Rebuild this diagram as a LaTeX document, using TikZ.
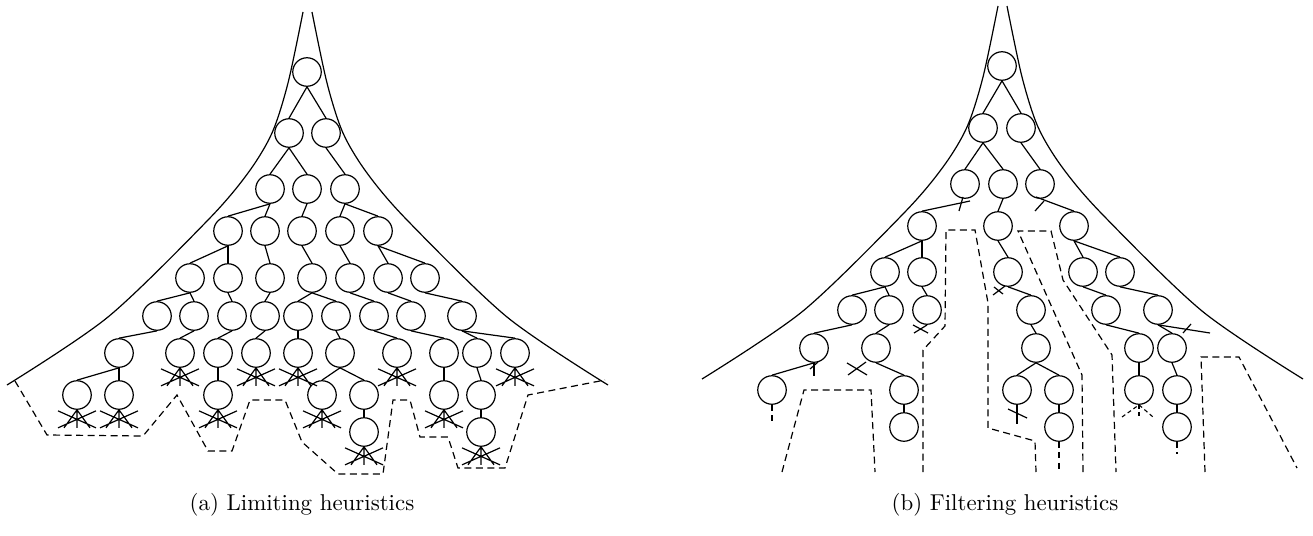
\documentclass[tikz,border=0pt]{standalone}
\usetikzlibrary{calc}
\begin{document}
\begin{tikzpicture}[x=1pt,y=-1pt,
  nd/.style={circle,draw,line width=1.2pt,minimum size=28.5pt,inner sep=0pt},
  ed/.style={line width=1.2pt},
  dsh/.style={line width=1.2pt,dash pattern=on 7pt off 4.5pt},
  dshs/.style={line width=1.1pt,dash pattern=on 6pt off 4.5pt},
  captxt/.style={font=\fontsize{10}{12}\selectfont,scale=2.29},
  cutx/.pic={\draw[ed] (-19,1) -- (19,18) (-19,18) -- (19,1) (0,0) -- (0,18) (0,0) -- (-13,18) (0,0) -- (13,18);}
]
\useasboundingbox (0,0) rectangle (1313,535);

% ---------------- (a) ----------------
\draw[ed] plot[smooth] coordinates {(303,12) (288,83) (272,133) (248,173) (208,220) (108,317) (7,385)};
\draw[ed] plot[smooth] coordinates {(312,12) (327,83) (343,133) (367,173) (407,220) (507,317) (608,385)};
\draw[dsh] (15,381) -- (47,435) -- (143,436) -- (177,395) -- (208,451) -- (232,451) -- (250,400) -- (285,400) -- (302,442) -- (338,474) -- (383,474) -- (393,400) -- (410,400) -- (420,437) -- (448,437) -- (458,468) -- (505,468) -- (528,395) -- (605,380);

\node[nd] (a1) at (307,72) {};
\foreach \n/\x in {a2a/289,a2b/326} \node[nd] (\n) at (\x,133) {};
\foreach \n/\x in {a3a/270,a3b/307,a3c/345} \node[nd] (\n) at (\x,189) {};
\foreach \n/\x in {a4a/228,a4b/265,a4c/302,a4d/340,a4e/378} \node[nd] (\n) at (\x,231) {};
\foreach \n/\x in {a5a/190,a5b/228,a5c/270,a5d/312,a5e/350,a5f/388,a5g/425} \node[nd] (\n) at (\x,278) {};
\foreach \n/\x in {a6a/157,a6b/194,a6c/232,a6d/265,a6e/298,a6f/336,a6g/374,a6h/411,a6i/462} \node[nd] (\n) at (\x,316) {};
\foreach \n/\x in {a7a/119,a7b/180,a7c/218,a7d/256,a7e/298,a7f/340,a7g/397,a7h/444,a7i/477,a7j/515} \node[nd] (\n) at (\x,353) {};
\foreach \n/\x in {a8a/77,a8b/119,a8c/218,a8d/322,a8e/364,a8f/444,a8g/481} \node[nd] (\n) at (\x,395) {};
\foreach \n/\x in {a9a/364,a9b/481} \node[nd] (\n) at (\x,432) {};

\foreach \p/\c in {a1/a2a,a1/a2b,a2a/a3a,a2a/a3b,a2b/a3c,
  a3a/a4a,a3a/a4b,a3b/a4c,a3c/a4d,a3c/a4e,
  a4a/a5a,a4a/a5b,a4b/a5c,a4c/a5d,a4d/a5e,a4e/a5f,a4e/a5g,
  a5a/a6a,a5a/a6b,a5b/a6c,a5c/a6d,a5d/a6e,a5d/a6f,a5e/a6g,a5f/a6h,a5g/a6i,
  a6a/a7a,a6b/a7b,a6c/a7c,a6d/a7d,a6e/a7e,a6f/a7f,a6g/a7g,a6h/a7h,a6i/a7i,a6i/a7j,
  a7a/a8a,a7a/a8b,a7c/a8c,a7f/a8d,a7f/a8e,a7h/a8f,a7i/a8g,
  a8e/a9a,a8g/a9b}
  \draw[ed] (\p.south) -- (\c.north);

\foreach \n in {a7b,a7d,a7e,a7g,a7j,a8a,a8b,a8c,a8d,a8f,a9a,a9b}
  \pic at (\n.south) {cutx};

\node[captxt] (capa) at (302,505) {(a) Limiting heuristics};

% ---------------- (b) ----------------
\draw[ed] plot[smooth] coordinates {(998,6) (983,77) (967,127) (943,167) (903,214) (803,311) (702,379)};
\draw[ed] plot[smooth] coordinates {(1007,6) (1022,77) (1038,127) (1062,167) (1102,214) (1202,311) (1303,379)};

\draw[dsh] (782,472) -- (804,390) -- (871,390) -- (875,472);
\draw[dsh] (923,472) -- (923,350) -- (945,326) -- (946,230) -- (975,230) -- (988,303) -- (988,428) -- (1035,441) -- (1036,472);
\draw[dsh] (1083,472) -- (1082,375) -- (1018,231) -- (1051,231) -- (1063,280) -- (1112,355) -- (1116,472);
\draw[dsh] (1205,472) -- (1201,357) -- (1239,357) -- (1297,468);

\node[nd] (b1) at (1002,66) {};
\foreach \n/\x in {b2a/983,b2b/1021} \node[nd] (\n) at (\x,128) {};
\foreach \n/\x in {b3a/965,b3b/1003,b3c/1040} \node[nd] (\n) at (\x,184) {};
\foreach \n/\x in {b4a/922,b4b/998,b4c/1074} \node[nd] (\n) at (\x,226) {};
\foreach \n/\x in {b5a/885,b5b/922,b5c/1008,b5d/1083,b5e/1120} \node[nd] (\n) at (\x,272) {};
\foreach \n/\x in {b6a/852,b6b/889,b6c/927,b6d/1031,b6e/1106,b6f/1158} \node[nd] (\n) at (\x,310) {};
\foreach \n/\x in {b7a/814,b7b/876,b7c/1036,b7d/1139,b7e/1172} \node[nd] (\n) at (\x,348) {};
\foreach \n/\x in {b8a/772,b8b/904,b8c/1017,b8d/1059,b8e/1139,b8f/1177} \node[nd] (\n) at (\x,390) {};
\foreach \n/\x in {b9a/904,b9b/1059,b9c/1177} \node[nd] (\n) at (\x,427) {};

\foreach \p/\c in {b1/b2a,b1/b2b,b2a/b3a,b2a/b3b,b2b/b3c,b3b/b4b,
  b4a/b5a,b4a/b5b,b4b/b5c,b4c/b5d,b4c/b5e,
  b5a/b6a,b5a/b6b,b5b/b6c,b5c/b6d,b5d/b6e,b5e/b6f,
  b6a/b7a,b6b/b7b,b6d/b7c,b6e/b7d,b6f/b7e,
  b7a/b8a,b7b/b8b,b7c/b8c,b7c/b8d,b7d/b8e,b7e/b8f,
  b8b/b9a,b8d/b9b,b8f/b9c}
  \draw[ed] (\p.south) -- (\c.north);

% cut edges
\coordinate (k1) at (970,201);
\draw[ed] (b4a.north) -- (k1);
\draw[ed] (963,197) -- (959,211);
\coordinate (k2) at (1036,197);
\draw[ed] (b4c.north) -- (k2);
\draw[ed] (1035,211) -- (1044,201);
\coordinate (k3) at (1210,333);
\draw[ed] (b6f.south) -- (k3);
\draw[ed] (1183,333) -- (1191,324);
% cut stubs
\draw[ed] (993,295) -- (1005,286) (994,287) -- (1003,294);
\draw[ed] (913,325) -- (928,333) (914,333) -- (927,325);
\draw[ed] (847,363) -- (867,375) (848,375) -- (866,362);
\draw[ed] (b7a.south) -- ++(0,13);
\draw[ed] (810,369) -- (818,362);
\draw[ed] (b8c.south) -- ++(0,19);
\draw[ed] (1008,409) -- (1027,418);
% dashed stubs
\draw[dshs] (b8a.south) -- ++(0,21);
\draw[dshs] (b9b.south) -- ++(0,29);
\draw[dshs] (b9c.south) -- ++(0,12);
\draw[line width=1.1pt,dash pattern=on 4pt off 3pt] (1122,417) -- (b8e.south) -- (1153,417);
\draw[line width=1.1pt,dash pattern=on 4pt off 3pt] (b8e.south) -- ++(0,13);

\node[captxt] (capb) at (1005,505) {(b) Filtering heuristics};
\end{tikzpicture}
\end{document}
